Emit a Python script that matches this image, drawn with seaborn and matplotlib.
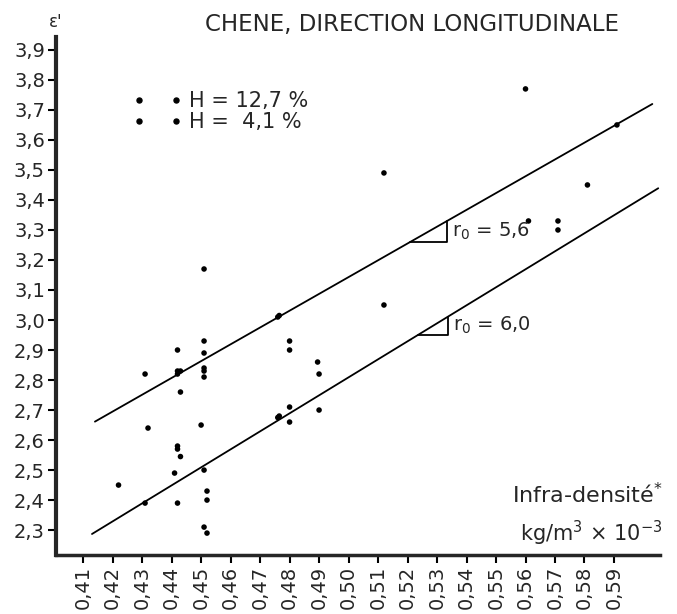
import numpy as np
import matplotlib
matplotlib.use('Agg')
import matplotlib.pyplot as plt
import seaborn as sns
import pandas as pd
from matplotlib.lines import Line2D
from matplotlib.legend_handler import HandlerTuple

# points (infra-density, epsilon')
dens = [0.422, 0.431, 0.432, 0.431, 0.442, 0.442, 0.442, 0.443, 0.443, 0.442,
        0.442, 0.443, 0.441, 0.442, 0.451, 0.451, 0.451, 0.451, 0.451, 0.451,
        0.450, 0.451, 0.452, 0.452, 0.451, 0.452, 0.476, 0.4765, 0.476, 0.4765,
        0.480, 0.480, 0.480, 0.480, 0.4895, 0.490, 0.490, 0.512, 0.512, 0.560,
        0.561, 0.571, 0.571, 0.581, 0.591]
eps = [2.45, 2.82, 2.64, 2.39, 2.90, 2.83, 2.82, 2.83, 2.76, 2.58,
       2.57, 2.545, 2.49, 2.39, 3.17, 2.93, 2.89, 2.84, 2.83, 2.81,
       2.65, 2.50, 2.43, 2.40, 2.31, 2.29, 3.01, 3.015, 2.675, 2.68,
       2.93, 2.90, 2.71, 2.66, 2.86, 2.82, 2.70, 3.49, 3.05, 3.77,
       3.33, 3.33, 3.30, 3.45, 3.65]

# the two fitted lines: slope r0, intercept, x range
line_slope = [5.6, 6.0]
line_icpt = [0.343, -0.191]
line_xmin = [0.414, 0.413]
line_xmax = [0.603, 0.605]
line_label = ['$\\mathregular{r_0}$ = 5,6', '$\\mathregular{r_0}$ = 6,0']
tri_x0 = [0.5208, 0.5236]
tri_dx = [0.0125, 0.0100]

h_labels = ['H = 12,7 %', 'H =  4,1 %']

xticks = np.round(np.arange(0.41, 0.595, 0.01), 2)
yticks = np.round(np.arange(2.3, 3.95, 0.1), 1)

sns.set_style('ticks')
plt.rcParams['font.family'] = ['DejaVu Sans']
plt.rcParams['mathtext.fontset'] = 'dejavusans'

fig = plt.figure(figsize=(6.77, 6.14), dpi=100)
ax = fig.add_axes([56 / 677, 1 - 555 / 614, 604 / 677, 518 / 614])

df = pd.DataFrame({'dens': dens, 'eps': eps})
sns.scatterplot(data=df, x='dens', y='eps', color='black', s=16,
                edgecolor='none', ax=ax, zorder=3)

for k in range(2):
    xs = np.array([line_xmin[k], line_xmax[k]])
    ax.plot(xs, line_slope[k] * xs + line_icpt[k], color='black', lw=1.3)
    # slope triangle
    x0 = tri_x0[k]
    x1 = x0 + tri_dx[k]
    y0 = line_slope[k] * x0 + line_icpt[k]
    y1 = line_slope[k] * x1 + line_icpt[k]
    ax.plot([x0, x1, x1], [y0, y0, y1], color='black', lw=1.3)
    ax.text(x1 + 0.0018, (y0 + y1) / 2, line_label[k], fontsize=14,
            ha='left', va='center')

ax.set_xlim(0.4008, 0.6056)
ax.set_ylim(2.217, 3.943)
ax.set_xticks(xticks)
ax.set_xticklabels([f'{v:.2f}'.replace('.', ',') for v in xticks],
                   rotation=90, fontsize=14)
ax.set_yticks(yticks)
ax.set_yticklabels([f'{v:.1f}'.replace('.', ',') for v in yticks], fontsize=14)
ax.tick_params(axis='both', direction='out', length=6, width=1.5,
               color='black', pad=2)
ax.set_xlabel('')
ax.set_ylabel('')
sns.despine(ax=ax)
ax.spines['left'].set_linewidth(3)
ax.spines['bottom'].set_linewidth(2.5)

ax.text(0, 1.012, "ε'", transform=ax.transAxes, ha='center', va='bottom',
        fontsize=12)
ax.text(1.005, 0.116, 'Infra-densité$^{*}$', transform=ax.transAxes,
        ha='right', va='center', fontsize=16)
ax.text(1.005, 0.042, 'kg/m$^3$ × 10$^{-3}$', transform=ax.transAxes,
        ha='right', va='center', fontsize=15)
fig.text(412 / 677, 1 - 24 / 614, 'CHENE, DIRECTION LONGITUDINALE',
         ha='center', va='center', fontsize=16.5)

dot = dict(marker='o', color='black', linestyle='none', markersize=3.6)
handles = [(Line2D([], [], **dot), Line2D([], [], **dot)) for _ in h_labels]
ax.legend(handles, h_labels, handler_map={tuple: HandlerTuple(ndivide=None, pad=1.3)},
          loc='upper left', bbox_to_anchor=(0.13, 0.895), frameon=False,
          fontsize=15, handlelength=2.2, handletextpad=0.4, labelspacing=0.05,
          borderpad=0, borderaxespad=0)

fig.savefig('out.png', dpi=100)
